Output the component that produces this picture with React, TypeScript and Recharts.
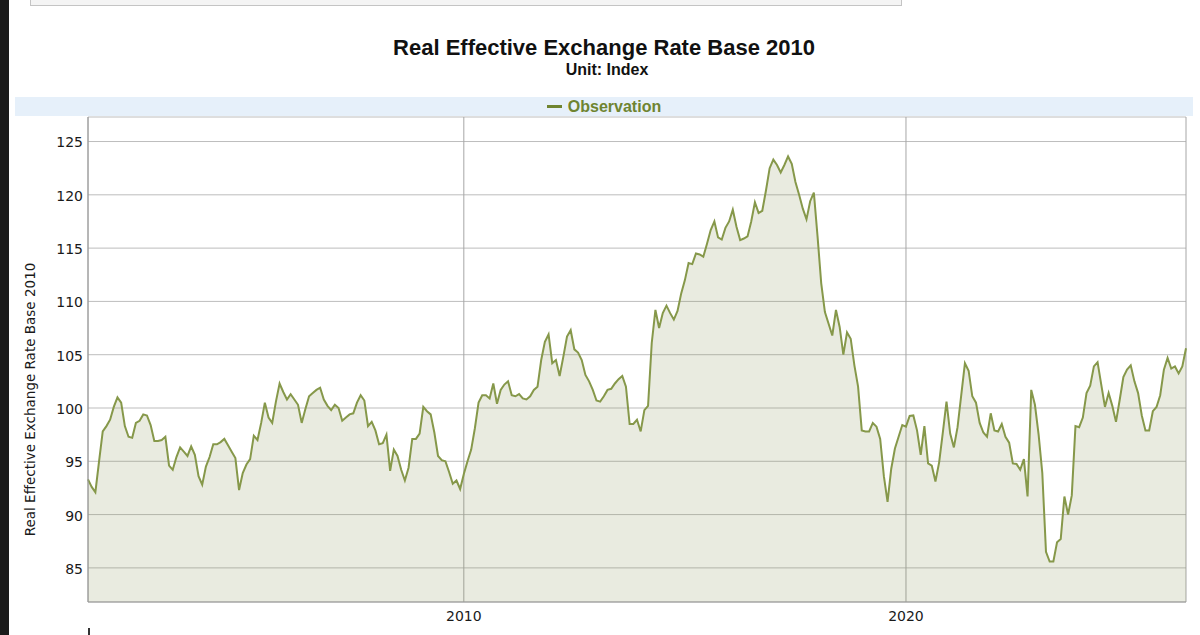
import { Area, AreaChart, CartesianGrid, XAxis, YAxis } from "recharts";

// Monthly observations, first value is July 2001
const START_YEAR = 2001;
const START_MONTH = 7;

const obs2001to2005 = [
  93.3, 92.6, 92.1, 95.0, 97.8, 98.3,
  98.9, 100.1, 101.0, 100.5, 98.3, 97.3, 97.2, 98.6, 98.8, 99.4, 99.3, 98.4,
  96.9, 96.9, 97.0, 97.3, 94.6, 94.2, 95.4, 96.3, 95.9, 95.5, 96.4, 95.6,
  93.6, 92.8, 94.5, 95.4, 96.6, 96.6, 96.8, 97.1, 96.5, 95.9, 95.3, 92.3,
  93.9, 94.7, 95.2, 97.4, 97.0, 98.6, 100.5, 99.1, 98.6, 100.6, 102.3, 101.5,
];

const obs2006to2010 = [
  100.8, 101.3, 100.8, 100.3, 98.6, 99.9, 101.1, 101.4, 101.7, 101.9, 100.8, 100.2,
  99.8, 100.3, 100.0, 98.8, 99.1, 99.4, 99.5, 100.5, 101.2, 100.7, 98.3, 98.7,
  97.9, 96.6, 96.7, 97.5, 94.1, 96.1, 95.5, 94.2, 93.2, 94.4, 97.1, 97.1,
  97.6, 100.1, 99.7, 99.4, 97.7, 95.5, 95.1, 95.0, 94.0, 92.9, 93.2, 92.4,
  93.8, 95.0, 96.1, 98.1, 100.5, 101.2, 101.2, 100.9, 102.3, 100.4, 101.7, 102.2,
];

const obs2011to2015 = [
  102.5, 101.2, 101.1, 101.3, 100.9, 100.8, 101.1, 101.7, 102.0, 104.5, 106.2, 106.9,
  104.2, 104.5, 103.0, 104.8, 106.7, 107.3, 105.5, 105.2, 104.5, 103.1, 102.5, 101.7,
  100.7, 100.6, 101.1, 101.7, 101.8, 102.3, 102.7, 103.0, 102.0, 98.5, 98.5, 98.9,
  97.8, 99.8, 100.2, 106.1, 109.2, 107.5, 108.9, 109.6, 108.9, 108.3, 109.1, 110.75,
  112.0, 113.6, 113.5, 114.5, 114.4, 114.2, 115.4, 116.7, 117.5, 116.0, 115.8, 116.9,
];

const obs2016to2020 = [
  117.5, 118.6, 117.0, 115.75, 115.9, 116.1, 117.5, 119.3, 118.3, 118.5, 120.4, 122.5,
  123.3, 122.8, 122.1, 122.8, 123.6, 122.9, 121.2, 120.0, 118.7, 117.7, 119.4, 120.2,
  116.1, 111.7, 109.0, 107.9, 106.8, 109.2, 107.6, 105.0, 107.1, 106.5, 104.0, 102.0,
  97.9, 97.8, 97.8, 98.6, 98.25, 97.1, 93.6, 91.2, 94.3, 96.2, 97.3, 98.4,
  98.25, 99.25, 99.3, 97.9, 95.6, 98.3, 94.8, 94.6, 93.1, 94.9, 97.7, 100.6,
];

const obs2021to2026 = [
  97.6, 96.3, 98.2, 101.2, 104.2, 103.5, 101.1, 100.5, 98.6, 97.7, 97.3, 99.5,
  97.9, 97.8, 98.5, 97.3, 96.75, 94.8, 94.75, 94.2, 95.2, 91.7, 101.7, 100.3,
  97.5, 93.9, 86.5, 85.6, 85.6, 87.4, 87.7, 91.7, 90.0, 91.8, 98.3, 98.2,
  99.1, 101.4, 102.1, 103.9, 104.3, 102.2, 100.1, 101.4, 100.2, 98.7, 100.75, 102.9,
  103.6, 104.0, 102.5, 101.4, 99.3, 97.9, 97.9, 99.7, 100.1, 101.2, 103.6, 104.7,
  103.7, 103.9, 103.25, 103.9, 105.6,
];

const Y_TICKS = [85, 90, 95, 100, 105, 110, 115, 120, 125];
const X_TICKS = [2010, 2020];

const TITLE = "Real Effective Exchange Rate Base 2010";
const SUBTITLE = "Unit: Index";
const SERIES_NAME = "Observation";

const LINE_COLOR = "#86984a";
const FILL_COLOR = "#859053";
const GRID_H = "#bdbdbd";
const GRID_V = "#a6a6a6";
const AXIS_COLOR = "#9a9a9a";
const TEXT_COLOR = "#1a1a1a";

const observations = [
  ...obs2001to2005,
  ...obs2006to2010,
  ...obs2011to2015,
  ...obs2016to2020,
  ...obs2021to2026,
];

const chartData = observations.map((value, i) => ({
  t: START_YEAR + (START_MONTH - 1 + i) / 12,
  value,
}));

const X_DOMAIN = [chartData[0].t, chartData[chartData.length - 1].t];

function YAxisTitle(props: any) {
  const vb = props.viewBox ?? { x: 0, y: 117, width: 88, height: 485 };
  const cx = vb.x + 30;
  const cy = vb.y + vb.height / 2 + 40;
  return (
    <text
      x={cx}
      y={cy}
      transform={`rotate(-90 ${cx} ${cy})`}
      textAnchor="middle"
      dominantBaseline="central"
      fontSize={13.5}
      fill={TEXT_COLOR}
    >
      {TITLE}
    </text>
  );
}

export default function App() {
  return (
    <div
      style={{
        position: "absolute",
        left: 0,
        top: 0,
        width: 1200,
        height: 635,
        overflow: "hidden",
        background: "#ffffff",
        fontFamily: "'DejaVu Sans', Verdana, sans-serif",
      }}
    >
      <AreaChart
        width={1200}
        height={635}
        data={chartData}
        margin={{ top: 117, right: 14, left: 0, bottom: 0 }}
      >
        <CartesianGrid vertical={false} stroke={GRID_H} />
        <CartesianGrid horizontal={false} stroke={GRID_V} />
        <XAxis
          dataKey="t"
          type="number"
          domain={X_DOMAIN}
          ticks={X_TICKS}
          height={33}
          tickLine={false}
          tickSize={0}
          tickMargin={9}
          axisLine={{ stroke: AXIS_COLOR }}
          tick={{ fontSize: 14, fill: TEXT_COLOR }}
        />
        <YAxis
          domain={[81.8, 127.3]}
          ticks={Y_TICKS}
          allowDataOverflow
          width={88}
          tickLine={false}
          tickSize={0}
          tickMargin={5}
          axisLine={{ stroke: AXIS_COLOR }}
          tick={{ fontSize: 14, fill: TEXT_COLOR, dy: 1 }}
          label={{ content: YAxisTitle }}
        />
        <Area
          type="linear"
          dataKey="value"
          name={SERIES_NAME}
          stroke={LINE_COLOR}
          strokeWidth={2}
          fill={FILL_COLOR}
          fillOpacity={0.18}
          dot={false}
          activeDot={false}
          isAnimationActive={false}
        />
      </AreaChart>

      {/* page chrome around the chart */}
      <div style={{ position: "absolute", left: 0, top: 0, width: 9, height: 635, background: "#1b1b1b" }} />
      <div
        style={{
          position: "absolute",
          left: 30,
          top: -1,
          width: 870,
          height: 5,
          background: "#f4f4f4",
          border: "1px solid #c4c4c4",
        }}
      />
      <div style={{ position: "absolute", left: 88, top: 628, width: 2, height: 7, background: "#333" }} />

      <div
        style={{
          position: "absolute",
          left: 0,
          top: 37,
          width: 1208,
          textAlign: "center",
          fontFamily: "'Liberation Sans', Arial, sans-serif",
          fontWeight: 700,
          fontSize: 22,
          lineHeight: "22px",
          color: "#111",
        }}
      >
        {TITLE}
      </div>
      <div
        style={{
          position: "absolute",
          left: 0,
          top: 62,
          width: 1214,
          textAlign: "center",
          fontFamily: "'Liberation Sans', Arial, sans-serif",
          fontWeight: 700,
          fontSize: 16,
          lineHeight: "16px",
          color: "#111",
        }}
      >
        {SUBTITLE}
      </div>
      <div
        style={{
          position: "absolute",
          left: 15,
          top: 97,
          width: 1178,
          height: 19,
          background: "#e6f0fa",
          display: "flex",
          alignItems: "center",
          justifyContent: "center",
          fontFamily: "'Liberation Sans', Arial, sans-serif",
          fontWeight: 700,
          fontSize: 16,
          lineHeight: "16px",
          color: "#6f8430",
        }}
      >
        <span style={{ display: "inline-block", width: 15, height: 3, background: "#6f8430", marginRight: 6 }} />
        <span>{SERIES_NAME}</span>
      </div>
    </div>
  );
}
